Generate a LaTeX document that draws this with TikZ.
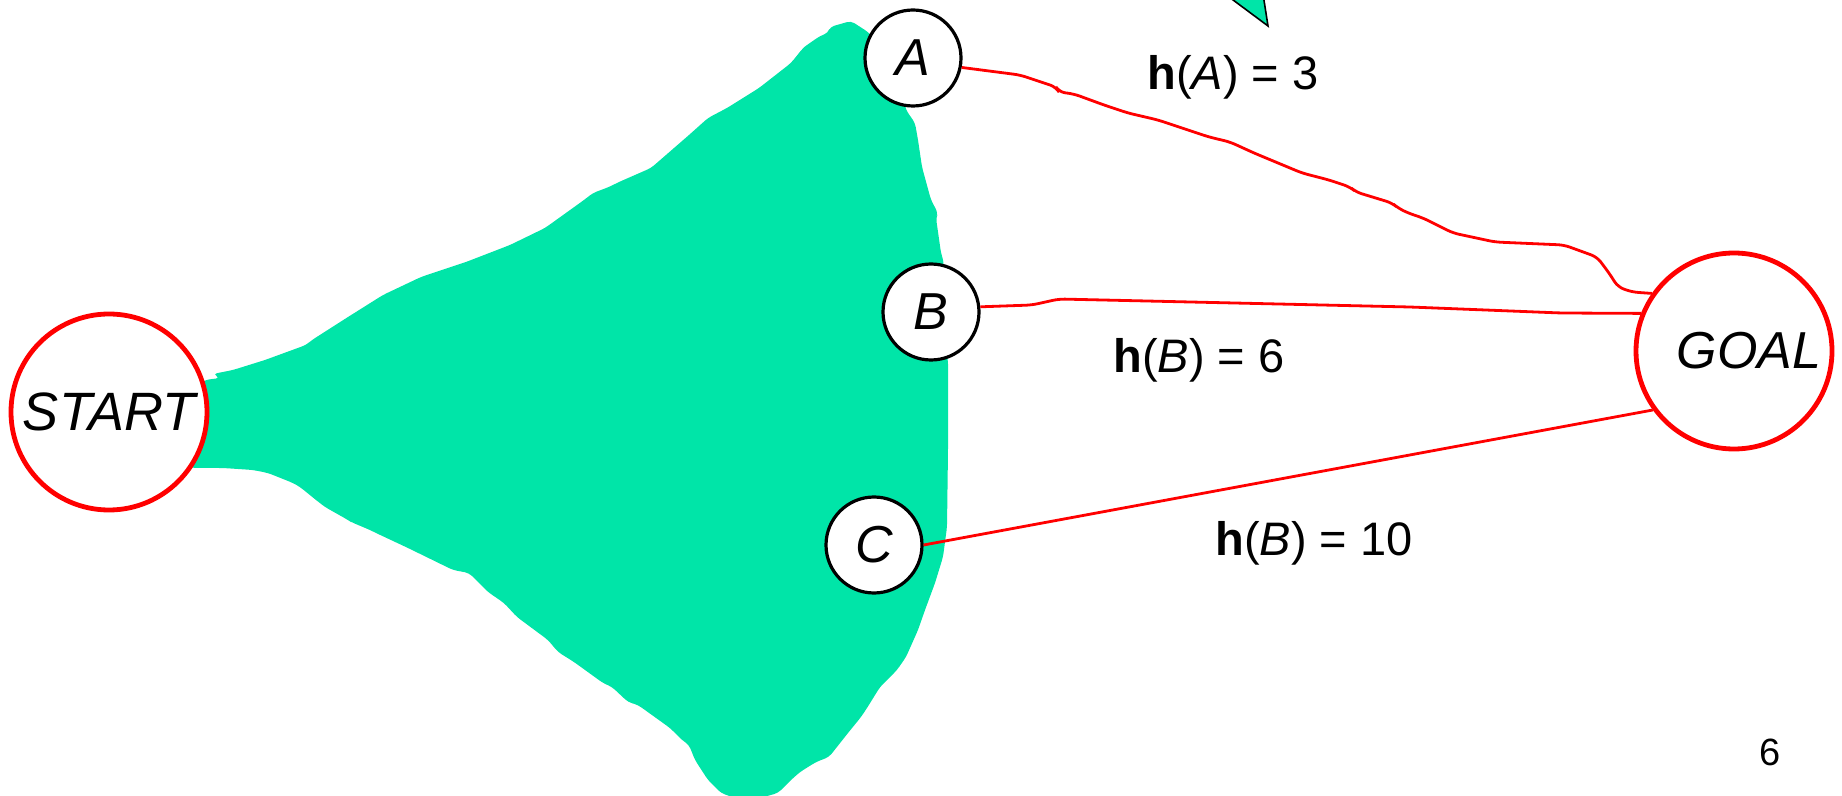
\documentclass[tikz,border=0pt]{standalone}
\usepackage{fontspec}
\setmainfont{Liberation Sans}
\definecolor{blobgreen}{RGB}{0,229,168}
\begin{document}
\begin{tikzpicture}[x=0.5pt,y=-0.5pt,
  smallnode/.style={circle,draw=black,line width=1.6pt,fill=white,minimum size=48pt,inner sep=0pt,font=\fontsize{26}{26}\selectfont\itshape},
  bignode/.style={circle,draw=red,line width=2.4pt,fill=white,minimum size=98pt,inner sep=0pt,font=\fontsize{27}{27}\selectfont\itshape},
  link/.style={draw=red,line width=1.4pt,rounded corners=3pt},
  hlabel/.style={anchor=base west,inner sep=0pt,font=\fontsize{23.5}{23.5}\selectfont},
  pagenum/.style={anchor=base west,inner sep=0pt,font=\fontsize{19}{19}\selectfont}]
\useasboundingbox (0,0) rectangle (1842,796);
\clip (0,0) rectangle (1842,796);
% search-space blob
\fill[blobgreen,rounded corners=2pt] (150,420) -- (205,380) -- (220,378) -- (213,374) -- (233,370) -- (265,360) -- (306,345) -- (312,340) -- (348,317) -- (383,295) -- (421,277) -- (466,262) -- (510,245) -- (545,228) -- (584,200) -- (593,193) -- (609,187) -- (619,182) -- (651,168) -- (689,135) -- (708,118) -- (727,108) -- (759,88) -- (791,63) -- (803,48) -- (807,45) -- (820,36) -- (828,33) -- (830,27) -- (851,21) -- (868,32) -- (895,60) -- (906,110) -- (915,123) -- (918,140) -- (922,167) -- (931,200) -- (938,213) -- (936,218) -- (941,253) -- (944,263) -- (935,312) -- (948,360) -- (948,450) -- (947,527) -- (943,557) -- (935,583) -- (925,610) -- (918,630) -- (906,657) -- (897,670) -- (880,687) -- (867,708) -- (861,717) -- (848,733) -- (829,757) -- (816,762) -- (800,772) -- (791,780) -- (778,793) -- (760,798) -- (735,798) -- (721,793) -- (708,780) -- (695,760) -- (689,745) -- (682,740) -- (670,728) -- (638,705) -- (628,702) -- (612,687) -- (603,683) -- (574,662) -- (558,652) -- (548,640) -- (517,617) -- (504,603) -- (488,592) -- (478,582) -- (469,573) -- (453,570) -- (408,548) -- (376,533) -- (370,530) -- (351,522) -- (348,520) -- (325,507) -- (316,500) -- (300,487) -- (293,483) -- (268,473) -- (253,470) -- (223,468) -- (191,468) -- cycle;
% small triangle at top
\filldraw[fill=blobgreen,draw=black,line width=0.8pt,line join=miter] (1225,-6) -- (1268,26) -- (1263,-6) -- cycle;
% nodes
\node[bignode] (start) at (109,412) {START};
\node[bignode,font=\fontsize{26}{26}\selectfont\itshape] (goal) at (1734,351) {\hspace*{15pt}GOAL};
\node[smallnode] (a) at (913,58) {A};
\node[smallnode] (b) at (931,312) {B};
\node[smallnode] (c) at (874,545) {C};
% connectors
\draw[link] (a.-11) -- (1020,75) -- (1044,83) -- (1056,87) -- (1059,92) -- (1074,94) -- (1104,105) -- (1128,113) -- (1158,120) -- (1209,137) -- (1230,142) -- (1254,153) -- (1278,163) -- (1302,173) -- (1329,180) -- (1338,183) -- (1350,187) -- (1356,192) -- (1392,203) -- (1398,208) -- (1408,213) -- (1423,218) -- (1453,233) -- (1495,242) -- (1564,245) -- (1597,257) -- (1609,273) -- (1618,287) -- (1632,292) -- (goal.145);
\draw[link] (b.6) -- (1032,305) -- (1059,299) -- (1410,307) -- (1561,313) -- (goal.158);
\draw[link] (c.east) -- (goal.216.75);
% labels
\node[hlabel] (ha) at (1147,90) {\textbf{h}(\textit{A}) = 3};
\node[hlabel] (hb) at (1113,373) {\textbf{h}(\textit{B}) = 6};
\node[hlabel] (hc) at (1215,555) {\textbf{h}(\textit{B}) = 10};
\node[pagenum] (pg) at (1759,765) {6};
\end{tikzpicture}
\end{document}
